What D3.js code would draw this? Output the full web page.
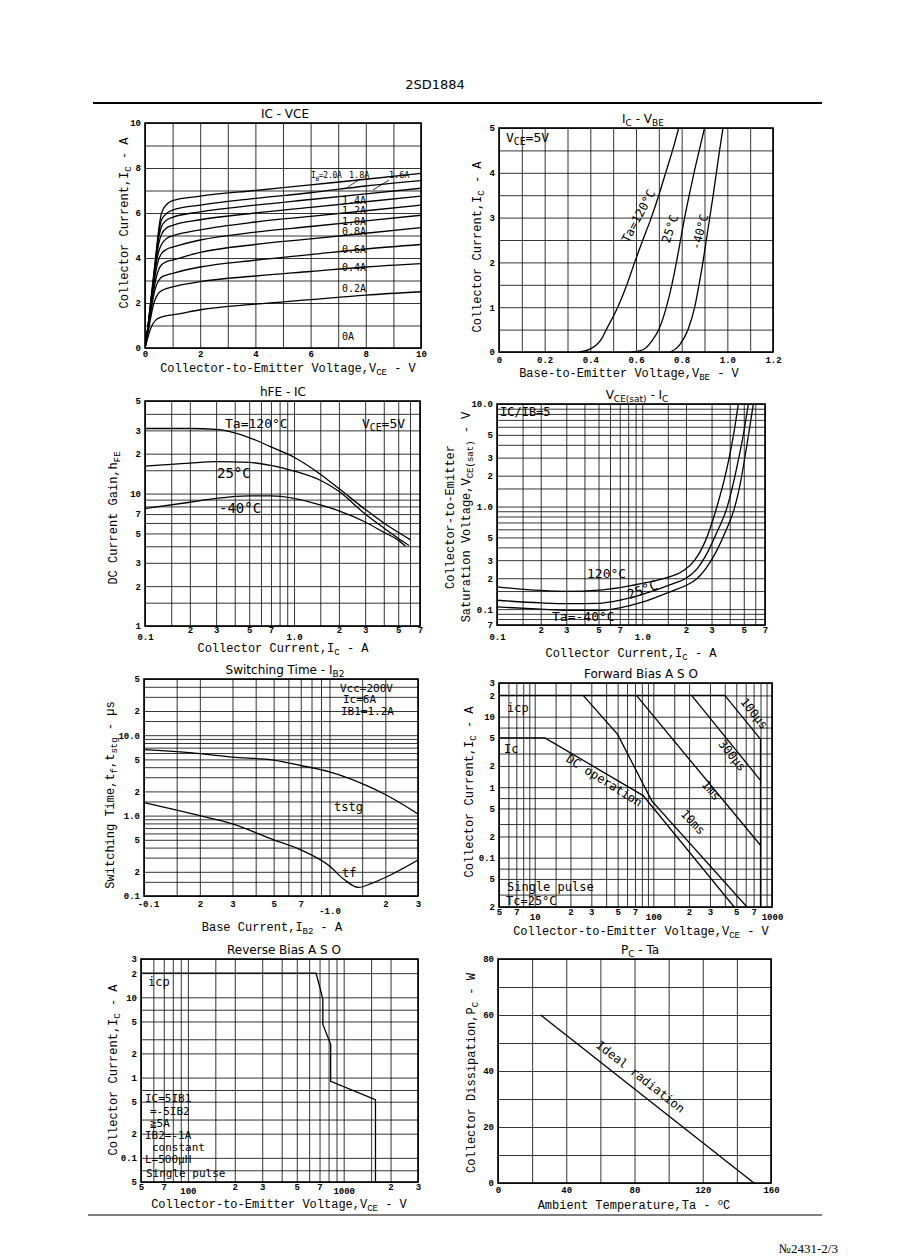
<!DOCTYPE html>
<html>
<head>
<meta charset="utf-8">
<script src="https://cdn.jsdelivr.net/npm/d3@7"></script>
<style>
  body { margin: 0; background: #fff; }
  svg { display: block; }
  .grid line { stroke: #000; stroke-width: 0.8; }
  .grid .domain, .tl .domain { display: none; }
  .tl text { font-family: "Liberation Mono", monospace; font-size: 9px; font-weight: bold; fill: #000; }
  .curve { fill: none; stroke: #000; stroke-width: 1.3; }
  .ttl { font-family: "DejaVu Sans", sans-serif; font-size: 12px; }
  .axl { font-family: "Liberation Mono", monospace; font-size: 12px; }
  .note { font-family: "DejaVu Sans Mono", monospace; font-size: 12px; fill: #000; }
</style>
</head>
<body>
<svg id="page" width="898" height="1260"></svg>
<script>
// ---------- data: IC - VCE ----------
const vceV = [0, 0.1, 0.2, 0.3, 0.4, 0.5, 0.6, 0.8, 1, 2, 4, 6, 8, 10];
const ibNames = ['2.0A', '1.8A', '1.6A', '1.4A', '1.2A', '1.0A', '0.8A', '0.6A', '0.4A', '0.2A'];
const icByIb = [
  [0, 0.9, 2.0, 3.1, 4.2, 5.3, 6.0, 6.4, 6.55, 6.75, 7.0, 7.25, 7.5, 7.76],
  [0, 0.9, 1.95, 3.0, 4.1, 5.1, 5.7, 6.0, 6.13, 6.35, 6.65, 6.9, 7.2, 7.44],
  [0, 0.85, 1.9, 2.95, 4.0, 4.9, 5.4, 5.7, 5.81, 6.05, 6.35, 6.6, 6.85, 7.1],
  [0, 0.85, 1.85, 2.9, 3.9, 4.65, 5.05, 5.35, 5.45, 5.7, 6.0, 6.25, 6.5, 6.75],
  [0, 0.8, 1.8, 2.8, 3.7, 4.3, 4.6, 4.88, 4.98, 5.25, 5.6, 5.85, 6.1, 6.35],
  [0, 0.8, 1.7, 2.65, 3.45, 3.95, 4.2, 4.4, 4.48, 4.8, 5.15, 5.4, 5.65, 5.9],
  [0, 0.75, 1.6, 2.45, 3.1, 3.5, 3.7, 3.85, 3.91, 4.25, 4.6, 4.85, 5.1, 5.35],
  [0, 0.7, 1.5, 2.25, 2.75, 3.0, 3.15, 3.25, 3.32, 3.6, 3.9, 4.15, 4.4, 4.6],
  [0, 0.6, 1.3, 1.9, 2.25, 2.45, 2.55, 2.65, 2.72, 2.95, 3.2, 3.4, 3.6, 3.75],
  [0, 0.45, 0.85, 1.1, 1.25, 1.33, 1.38, 1.44, 1.47, 1.7, 1.95, 2.15, 2.35, 2.5]
];

// ---------- data: IC - VBE ----------
const vbe120 = [0.35, 0.40, 0.45, 0.47, 0.52, 0.56, 0.594, 0.63, 0.667, 0.70, 0.73, 0.76, 0.787];
const ic120 = [0, 0.07, 0.3, 0.5, 1.0, 1.5, 2.0, 2.5, 3.0, 3.5, 4.0, 4.5, 5.0];
const vbe25 = [0.58, 0.63, 0.67, 0.70, 0.733, 0.757, 0.777, 0.795, 0.813, 0.833, 0.854, 0.877, 0.90];
const ic25 = [0, 0.05, 0.25, 0.5, 1.0, 1.5, 2.0, 2.5, 3.0, 3.5, 4.0, 4.5, 5.0];
const vbeM40 = [0.75, 0.79, 0.828, 0.857, 0.876, 0.893, 0.908, 0.923, 0.938, 0.952, 0.966, 0.981];
const icM40 = [0, 0.15, 0.5, 1.0, 1.5, 2.0, 2.5, 3.0, 3.5, 4.0, 4.5, 5.0];

// ---------- data: hFE - IC ----------
const hfeIc120 = [0.1, 0.2, 0.3, 0.5, 0.7, 1, 1.5, 2, 3, 4, 5, 6];
const hfe120 = [31, 31, 30.5, 26.5, 22.5, 18.8, 14.0, 10.9, 7.6, 6.0, 5.1, 4.5];
const hfeIc25 = [0.1, 0.2, 0.3, 0.5, 0.7, 1, 1.5, 2, 3, 4, 5, 5.9];
const hfe25 = [16.1, 17.0, 17.4, 17.2, 16.3, 14.8, 12.6, 10.4, 7.0, 5.5, 4.6, 4.05];
const hfeIcM40 = [0.1, 0.2, 0.3, 0.5, 0.7, 1, 1.5, 2, 3, 4, 5, 5.6];
const hfeM40 = [7.7, 8.6, 9.2, 9.6, 9.6, 9.2, 8.2, 7.4, 6.1, 5.1, 4.45, 4.0];

// ---------- data: VCE(sat) - IC ----------
const satIc120 = [0.1, 0.2, 0.3, 0.5, 0.7, 1.0, 1.4, 1.9, 2.3, 2.7, 3.22, 3.85, 4.3, 4.58];
const sat120 = [0.165, 0.152, 0.149, 0.153, 0.162, 0.178, 0.198, 0.235, 0.3, 0.45, 0.93, 2.45, 5.5, 9.9];
const satIc25 = [0.1, 0.2, 0.3, 0.5, 0.7, 1.0, 1.6, 2.0, 2.4, 2.85, 3.3, 3.81, 4.2, 4.6, 5.0, 5.37];
const sat25 = [0.122, 0.115, 0.113, 0.114, 0.122, 0.139, 0.175, 0.2, 0.25, 0.37, 0.58, 0.95, 1.6, 2.9, 5.3, 9.9];
const satIcM40 = [0.1, 0.2, 0.3, 0.5, 0.7, 1.0, 1.6, 2.0, 2.4, 2.8, 3.25, 3.8, 4.3, 4.7, 5.0, 5.45, 5.81];
const satM40 = [0.105, 0.1, 0.097, 0.097, 0.103, 0.117, 0.15, 0.17, 0.2, 0.26, 0.37, 0.6, 0.95, 1.6, 2.6, 5.5, 9.9];

// ---------- data: switching time - IB2 ----------
const swIbStg = [0.1, 0.2, 0.3, 0.5, 0.7, 1.0, 1.5, 2, 3];
const tstg = [6.6, 5.9, 5.35, 4.9, 4.2, 3.5, 2.5, 1.83, 1.05];
const swIbF = [0.1, 0.2, 0.3, 0.5, 0.7, 1.0, 1.2, 1.43, 1.7, 2.0, 3.0];
const tf = [1.45, 1.0, 0.79, 0.5, 0.375, 0.236, 0.16, 0.128, 0.145, 0.17, 0.28];

// ---------- data: forward bias ASO ----------
const fAsoNames = ['100us', '300us', '1ms', '10ms', 'DC'];
const fAsoV = [
  [5, 400, 800, 800],
  [210, 800],
  [72, 800],
  [25.6, 50, 97, 615],
  [5, 12.2, 82, 480]
];
const fAsoI = [
  [20, 20, 4.8, 0.02],
  [20, 1.25],
  [20, 0.15],
  [20, 5.6, 0.64, 0.02],
  [5, 5, 0.76, 0.02]
];

// ---------- data: reverse bias ASO ----------
const rAsoV = [50, 665, 735, 735, 825, 825, 1600, 1600];
const rAsoI = [20, 20, 9.5, 4.6, 2.6, 0.9, 0.53, 0.05];

// ---------- data: PC - Ta ----------
const pcTa = [25, 150];
const pcW = [60, 0];

// ---------- tick labels ----------
const tk = {
  lin10: [0, 2, 4, 6, 8, 10],
  vbe: [0, 0.2, 0.4, 0.6, 0.8, 1.0, 1.2], vbeL: ['0', '0.2', '0.4', '0.6', '0.8', '1.0', '1.2'],
  ic5: [0, 1, 2, 3, 4, 5],
  icLog: [0.1, 0.2, 0.3, 0.5, 0.7, 1, 2, 3, 5, 7], icLogL: ['0.1', '2', '3', '5', '7', '1.0', '2', '3', '5', '7'],
  hfe: [1, 2, 3, 5, 7, 10, 20, 30, 50], hfeL: ['1', '2', '3', '5', '7', '10', '2', '3', '5'],
  sat: [0.07, 0.1, 0.2, 0.3, 0.5, 1, 2, 3, 5, 10], satL: ['7', '0.1', '2', '3', '5', '1.0', '2', '3', '5', '10.0'],
  ib2: [0.1, 0.2, 0.3, 0.5, 0.7, 1, 2, 3], ib2L: ['-0.1', '2', '3', '5', '7', '-1.0', '2', '3'],
  sw: [0.1, 0.2, 0.5, 1, 2, 5, 10, 20, 50], swL: ['0.1', '2', '5', '1.0', '2', '5', '10.0', '2', '5'],
  fV: [5, 7, 10, 20, 30, 50, 70, 100, 200, 300, 500, 700, 1000], fVL: ['5', '7', '10', '2', '3', '5', '7', '100', '2', '3', '5', '7', '1000'],
  fI: [0.02, 0.05, 0.1, 0.2, 0.5, 1, 2, 5, 10, 20, 30], fIL: ['2', '5', '0.1', '2', '5', '1', '2', '5', '10', '2', '3'],
  rV: [50, 70, 100, 200, 300, 500, 700, 1000, 2000, 3000], rVL: ['5', '7', '100', '2', '3', '5', '7', '1000', '2', '3'],
  rI: [0.05, 0.1, 0.2, 0.5, 1, 2, 5, 10, 20, 30], rIL: ['5', '0.1', '2', '5', '1', '2', '5', '10', '2', '3'],
  ta: [0, 40, 80, 120, 160], pc: [0, 20, 40, 60, 80]
};

const svg = d3.select('#page');
svg.append('rect').attr('width', 898).attr('height', 1260).attr('fill', '#fff');

function logGrid(lo, hi, mant) {
  const out = [];
  const ms = mant || [1, 1.5, 2, 3, 4, 5, 6, 7, 8, 9];
  for (let k = Math.floor(Math.log10(lo)); k <= Math.ceil(Math.log10(hi)); k++) {
    ms.forEach(m => {
      const v = m * Math.pow(10, k);
      if (v >= lo * 0.999 && v <= hi * 1.001) out.push(v);
    });
  }
  return out;
}

// text with _{sub} and ^{sup}
function rich(t, s) {
  let shift = 0;
  s.split(/(_\{[^}]*\}|\^\{[^}]*\})/).forEach(p => {
    if (!p) return;
    let target = 0, txt = p, small = false;
    if (p.startsWith('_{')) { target = 3; txt = p.slice(2, -1); small = true; }
    else if (p.startsWith('^{')) { target = -4; txt = p.slice(2, -1); small = true; }
    const ts = t.append('tspan').attr('dy', target - shift).text(txt);
    if (small) ts.attr('font-size', '0.75em');
    shift = target;
  });
  return t;
}

function note(g, x, y, s, o = {}) {
  const t = g.append('text').attr('class', 'note')
    .attr('transform', `translate(${x},${y}) rotate(${o.rot || 0})`)
    .attr('text-anchor', o.anchor || 'start')
    .style('font-size', (o.size || 12) + 'px');
  if (o.ls) t.style('letter-spacing', o.ls + 'px');
  return rich(t, s);
}

function panel(o) {
  const g = svg.append('g');
  const x = (o.xlog ? d3.scaleLog() : d3.scaleLinear()).domain(o.xd).range([o.l, o.r]);
  const y = (o.ylog ? d3.scaleLog() : d3.scaleLinear()).domain(o.yd).range([o.b, o.t]);

  g.append('g').attr('class', 'grid').attr('transform', `translate(0,${o.b})`)
    .call(d3.axisBottom(x).tickValues(o.xg).tickSize(-(o.b - o.t)).tickFormat(''));
  g.append('g').attr('class', 'grid').attr('transform', `translate(${o.l},0)`)
    .call(d3.axisLeft(y).tickValues(o.yg).tickSize(-(o.r - o.l)).tickFormat(''));

  const xa = g.append('g').attr('class', 'tl').attr('transform', `translate(0,${o.b})`)
    .call(d3.axisBottom(x).tickValues(o.xt).tickFormat((d, i) => o.xtl[i]).tickSize(0).tickPadding(o.xpad));
  // decade labels sit a little lower on the original sheet
  const low = o.xlow || [];
  xa.selectAll('text').filter(function () { return low.includes(this.textContent); })
    .attr('y', o.xpad + (o.lowDy || 7));
  if (o.firstDx) xa.selectAll('text').filter((d, i) => i === 0).attr('x', o.firstDx);
  g.append('g').attr('class', 'tl').attr('transform', `translate(${o.l},0)`)
    .call(d3.axisLeft(y).tickValues(o.yt).tickFormat((d, i) => o.ytl[i]).tickSize(0).tickPadding(4));

  g.append('rect').attr('x', o.l).attr('y', o.t).attr('width', o.r - o.l).attr('height', o.b - o.t)
    .attr('fill', 'none').attr('stroke', '#000').attr('stroke-width', 1.6);

  rich(g.append('text').attr('class', 'ttl').attr('text-anchor', 'middle')
    .attr('x', o.tx).attr('y', o.t - 5), o.title);
  rich(g.append('text').attr('class', 'axl').attr('text-anchor', 'middle')
    .attr('x', o.xlx).attr('y', o.xly), o.xl);
  o.yl.forEach((s, i) => {
    rich(g.append('text').attr('class', 'axl').attr('text-anchor', 'middle')
      .attr('transform', `translate(${o.ylx[i] + 4},${o.yly}) rotate(-90)`), s);
  });

  const clipId = 'c' + Math.round(o.l) + '_' + Math.round(o.t);
  g.append('clipPath').attr('id', clipId).append('rect')
    .attr('x', o.l).attr('y', o.t).attr('width', o.r - o.l).attr('height', o.b - o.t);
  const plot = g.append('g').attr('clip-path', `url(#${clipId})`);

  const draw = (xs, ys, curve) => {
    const line = d3.line().x(d => x(d[0])).y(d => y(d[1])).curve(curve || d3.curveLinear);
    plot.append('path').attr('class', 'curve').attr('d', line(xs.map((v, i) => [v, ys[i]])));
  };
  return { g, x, y, draw };
}

// header / footer
svg.append('text').attr('x', 435).attr('y', 89).attr('text-anchor', 'middle')
  .style('font-family', '"DejaVu Sans", sans-serif').style('font-size', '13px').text('2SD1884');
svg.append('line').attr('x1', 93).attr('x2', 822).attr('y1', 103).attr('y2', 103)
  .attr('stroke', '#000').attr('stroke-width', 2);
svg.append('line').attr('x1', 88).attr('x2', 822).attr('y1', 1215).attr('y2', 1215)
  .attr('stroke', '#000').attr('stroke-width', 1.2);
svg.append('text').attr('x', 838).attr('y', 1253).attr('text-anchor', 'end')
  .style('font-family', '"Liberation Serif", serif').style('font-size', '13px').text('№2431-2/3');

// ---- 1: IC - VCE ----
const p1 = panel({
  l: 145, r: 421, t: 123, b: 348, xd: [0, 10], yd: [0, 10], xpad: 3,
  xg: d3.range(0, 11), yg: d3.range(0, 11),
  xt: tk.lin10, xtl: tk.lin10.map(String), yt: tk.lin10, ytl: tk.lin10.map(String),
  title: 'IC - VCE', tx: 285, xl: 'Collector-to-Emitter Voltage,V_{CE} - V', xlx: 288, xly: 372,
  yl: ['Collector Current,I_{C} - A'], ylx: [124], yly: 223
});
icByIb.forEach(c => p1.draw(vceV, c, d3.curveMonotoneX));
[['1.4A', 204], ['1.2A', 214], ['1.0A', 225], ['0.8A', 235], ['0.6A', 253], ['0.4A', 271], ['0.2A', 292], ['0A', 340]]
  .forEach(([s, yy]) => note(p1.g, 342, yy, s, { size: 10 }));
note(p1.g, 311, 178, 'I_{B}=2.0A', { size: 8, ls: -0.3 });
note(p1.g, 349, 178, '1.8A', { size: 8.5 });
note(p1.g, 389, 178, '1.6A', { size: 8.5 });
p1.g.append('path').attr('d', 'M348,187 L360,179 M373,190 L389,180').attr('stroke', '#000').attr('stroke-width', 0.8);

// ---- 2: IC - VBE ----
const p2 = panel({
  l: 499, r: 773, t: 128, b: 352, xd: [0, 1.2], yd: [0, 5], xpad: 5,
  xg: d3.range(0, 12.5).map(v => v / 10), yg: d3.range(0, 10.5).map(v => v / 2),
  xt: tk.vbe, xtl: tk.vbeL, yt: tk.ic5, ytl: tk.ic5.map(String),
  title: 'I_{C} - V_{BE}', tx: 643, xl: 'Base-to-Emitter Voltage,V_{BE} - V', xlx: 629, xly: 377,
  yl: ['Collector Current,I_{C} - A'], ylx: [477], yly: 247
});
p2.draw(vbe120, ic120, d3.curveMonotoneX);
p2.draw(vbe25, ic25, d3.curveMonotoneX);
p2.draw(vbeM40, icM40, d3.curveMonotoneX);
note(p2.g, 506, 142, 'V_{CE}=5V', { size: 13 });
note(p2.g, 642, 218, 'Ta=120°C', { size: 12, rot: -62, anchor: 'middle' });
note(p2.g, 674, 230, '25°C', { size: 12, rot: -72, anchor: 'middle' });
note(p2.g, 704, 233, '-40°C', { size: 12, rot: -75, anchor: 'middle' });

// ---- 3: hFE - IC ----
const p3 = panel({
  l: 145, r: 420, t: 401, b: 626, xlog: true, ylog: true, xd: [0.1, 7], yd: [1, 50], xpad: 1, xlow: ['0.1', '1.0'],
  xg: logGrid(0.1, 7), yg: logGrid(1, 50),
  xt: tk.icLog, xtl: tk.icLogL, yt: tk.hfe, ytl: tk.hfeL,
  title: 'hFE - IC', tx: 283, xl: 'Collector Current,I_{C} - A', xlx: 283, xly: 652,
  yl: ['DC Current Gain,h_{FE}'], ylx: [113], yly: 518
});
p3.draw(hfeIc120, hfe120, d3.curveMonotoneX);
p3.draw(hfeIc25, hfe25, d3.curveMonotoneX);
p3.draw(hfeIcM40, hfeM40, d3.curveMonotoneX);
note(p3.g, 225, 428, 'Ta=120°C', { size: 13 });
note(p3.g, 217, 478, '25°C', { size: 14 });
note(p3.g, 219, 513, '-40°C', { size: 14 });
note(p3.g, 362, 428, 'V_{CE}=5V', { size: 13 });

// ---- 4: VCE(sat) - IC ----
const p4 = panel({
  l: 497, r: 765, t: 404, b: 625, xlog: true, ylog: true, xd: [0.1, 7], yd: [0.07, 10], xpad: 2, xlow: ['0.1', '1.0'],
  xg: logGrid(0.1, 7), yg: logGrid(0.07, 10),
  xt: tk.icLog, xtl: tk.icLogL, yt: tk.sat, ytl: tk.satL,
  title: 'V_{CE(sat)} - I_{C}', tx: 637, xl: 'Collector Current,I_{C} - A', xlx: 631, xly: 657,
  yl: ['Collector-to-Emitter', 'Saturation Voltage,V_{CE(sat)} - V'], ylx: [450, 466], yly: 517
});
p4.draw(satIc120, sat120, d3.curveMonotoneX);
p4.draw(satIc25, sat25, d3.curveMonotoneX);
p4.draw(satIcM40, satM40, d3.curveMonotoneX);
note(p4.g, 500, 416, 'IC/IB=5', { size: 12 });
note(p4.g, 587, 578, '120°C', { size: 13 });
note(p4.g, 644, 594, '25°C', { size: 13, rot: -20, anchor: 'middle' });
note(p4.g, 552, 621, 'Ta=-40°C', { size: 13 });

// ---- 5: switching time - IB2 ----
const p5 = panel({
  l: 144, r: 418, t: 679, b: 896, xlog: true, ylog: true, xd: [0.1, 3], yd: [0.1, 50], xpad: 5, xlow: ['-1.0'],
  firstDx: 4,
  xg: logGrid(0.1, 3), yg: logGrid(0.1, 50),
  xt: tk.ib2, xtl: tk.ib2L, yt: tk.sw, ytl: tk.swL,
  title: 'Switching Time - I_{B2}', tx: 285, xl: 'Base Current,I_{B2} - A', xlx: 272, xly: 931,
  yl: ['Switching Time,t_{f},t_{stg} - µs'], ylx: [110], yly: 795
});
p5.draw(swIbStg, tstg, d3.curveMonotoneX);
p5.draw(swIbF, tf, d3.curveMonotoneX);
note(p5.g, 340, 692, 'Vcc=200V', { size: 11 });
note(p5.g, 343, 703, 'Ic=6A', { size: 11 });
note(p5.g, 341, 715, 'IB1=1.2A', { size: 11 });
note(p5.g, 334, 811, 'tstg', { size: 12 });
note(p5.g, 342, 877, 'tf', { size: 12 });

// ---- 6: forward bias ASO ----
const p6 = panel({
  l: 499, r: 772, t: 683, b: 907, xlog: true, ylog: true, xd: [5, 1000], yd: [0.02, 30], xpad: 2, xlow: ['10', '100', '1000'],
  lowDy: 5,
  xg: logGrid(5, 1000), yg: logGrid(0.02, 30, [1, 2, 3, 5, 7]),
  xt: tk.fV, xtl: tk.fVL, yt: tk.fI, ytl: tk.fIL,
  title: 'Forward Bias A S O', tx: 641, xl: 'Collector-to-Emitter Voltage,V_{CE} - V', xlx: 641, xly: 935,
  yl: ['Collector Current,I_{C} - A'], ylx: [469], yly: 792
});
fAsoV.forEach((vs, i) => p6.draw(vs, fAsoI[i]));
note(p6.g, 507, 712, 'icp', { size: 12 });
note(p6.g, 504, 753, 'Ic', { size: 12 });
note(p6.g, 602, 784, 'DC operation', { size: 12, rot: 32, anchor: 'middle' });
note(p6.g, 690, 825, '10ms', { size: 12, rot: 46, anchor: 'middle' });
note(p6.g, 708, 793, '1ms', { size: 12, rot: 50, anchor: 'middle' });
note(p6.g, 729, 758, '300µs', { size: 12, rot: 51, anchor: 'middle' });
note(p6.g, 751, 716, '100µs', { size: 12, rot: 51, anchor: 'middle' });
note(p6.g, 507, 891, 'Single pulse', { size: 12 });
note(p6.g, 506, 905, 'Tc=25°C', { size: 12 });

// ---- 7: reverse bias ASO ----
const p7 = panel({
  l: 141, r: 418, t: 959, b: 1182, xlog: true, ylog: true, xd: [50, 3000], yd: [0.05, 30], xpad: 2, xlow: ['100', '1000'],
  lowDy: 4,
  xg: logGrid(50, 3000), yg: logGrid(0.05, 30, [1, 2, 3, 5, 7]),
  xt: tk.rV, xtl: tk.rVL, yt: tk.rI, ytl: tk.rIL,
  title: 'Reverse Bias A S O', tx: 284, xl: 'Collector-to-Emitter Voltage,V_{CE} - V', xlx: 279, xly: 1208,
  yl: ['Collector Current,I_{C} - A'], ylx: [113], yly: 1070
});
p7.draw(rAsoV, rAsoI);
note(p7.g, 148, 986, 'icp', { size: 12 });
[['IC=5IB1', 145, 1102], ['=-5IB2', 150, 1115], ['≧5A', 150, 1127], ['IB2=-1A', 145, 1139],
 ['constant', 152, 1151], ['L=500µH', 145, 1163], ['Single pulse', 146, 1177]]
  .forEach(([s, xx, yy]) => note(p7.g, xx, yy, s, { size: 11 }));

// ---- 8: PC - Ta ----
const p8 = panel({
  l: 498, r: 771, t: 959, b: 1183, xd: [0, 160], yd: [0, 80], xpad: 4,
  xg: d3.range(0, 161, 20), yg: d3.range(0, 81, 10),
  xt: tk.ta, xtl: tk.ta.map(String), yt: tk.pc, ytl: tk.pc.map(String),
  title: 'P_{C} - Ta', tx: 640, xl: 'Ambient Temperature,Ta - ^{o}C', xlx: 634, xly: 1209,
  yl: ['Collector Dissipation,P_{C} - W'], ylx: [471], yly: 1073
});
p8.draw(pcTa, pcW);
note(p8.g, 638, 1080, 'Ideal radiation', { size: 12, rot: 38, anchor: 'middle' });
</script>
</body>
</html>
